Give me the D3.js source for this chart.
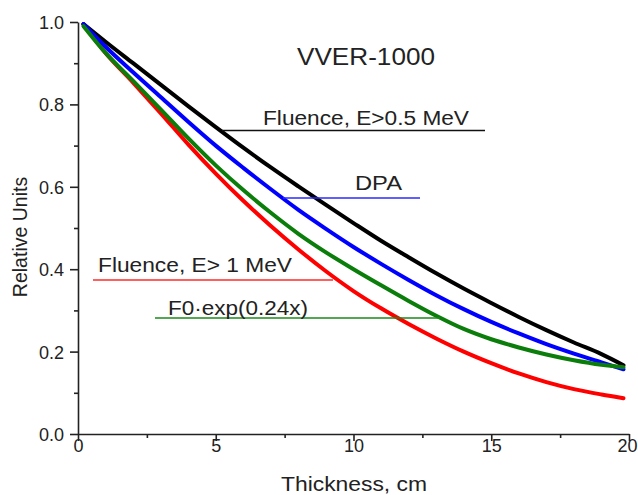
<!DOCTYPE html>
<html>
<head>
<meta charset="utf-8">
<script src="https://cdn.jsdelivr.net/npm/d3@7"></script>
<style>
	body { margin: 0; background: #fff; }
	svg { display: block; font-family: "Liberation Sans", Arial, sans-serif; }
</style>
</head>
<body>
<svg id="chart" width="638" height="495"></svg>
<script>
// values
var thickness = [0.2, 1, 2, 3, 4, 5, 6, 7, 8, 9, 10, 11, 12, 13, 14, 15, 16, 17, 18, 19, 19.8];
var fluence05 = [0.995, 0.952, 0.9, 0.848, 0.796, 0.745, 0.695, 0.647, 0.601, 0.556, 0.512, 0.469, 0.429, 0.39, 0.353, 0.318, 0.284, 0.252, 0.222, 0.194, 0.167];
var dpa = [0.995, 0.94, 0.878, 0.818, 0.758, 0.7, 0.646, 0.594, 0.544, 0.498, 0.454, 0.413, 0.374, 0.337, 0.303, 0.272, 0.244, 0.218, 0.195, 0.174, 0.157];
var fexp = [0.99, 0.925, 0.857, 0.788, 0.718, 0.652, 0.592, 0.537, 0.486, 0.441, 0.4, 0.361, 0.323, 0.287, 0.255, 0.23, 0.21, 0.193, 0.179, 0.168, 0.162];
var fluence1 = [0.995, 0.925, 0.853, 0.779, 0.703, 0.632, 0.566, 0.505, 0.448, 0.395, 0.347, 0.305, 0.267, 0.232, 0.2, 0.172, 0.147, 0.126, 0.109, 0.096, 0.087];

var xTicks = [0, 5, 10, 15, 20];
var yTicks = [0.0, 0.2, 0.4, 0.6, 0.8, 1.0];

var svg = d3.select('#chart');

var x = d3.scaleLinear().domain([0, 20]).range([78, 629]),
	y = d3.scaleLinear().domain([0, 1]).range([434, 22]);

// curves - drawn behind labels
var series = [
	{vals: fluence05, color: '#000000'},
	{vals: dpa, color: '#0000ff'},
	{vals: fexp, color: '#0a7d0a'},
	{vals: fluence1, color: '#ff0000'}
];
// red drawn under green at the start as in the picture
var order = [3, 0, 1, 2];

var line = d3.line()
	.x(function(d) { return x(d[0]); })
	.y(function(d) { return y(d[1]); })
	.curve(d3.curveMonotoneX);

order.forEach(function(i) {
	var s = series[i];
	svg.append('path')
		.datum(thickness.map(function(t, k) { return [t, s.vals[k]]; }))
		.attr('d', line)
		.attr('fill', 'none')
		.attr('stroke', s.color)
		.attr('stroke-width', 4)
		.attr('stroke-linejoin', 'round')
		.attr('stroke-linecap', 'round');
});

// axes
var xAxis = svg.append('g').attr('transform', 'translate(0,' + y(0) + ')')
	.call(d3.axisBottom(x).tickValues(xTicks).tickSize(7).tickSizeOuter(0).tickFormat(d3.format('d')));
var xMinor = svg.append('g').attr('transform', 'translate(0,' + y(0) + ')')
	.call(d3.axisBottom(x).tickValues([2.5, 7.5, 12.5, 17.5]).tickSize(4).tickSizeOuter(0).tickFormat(''));
var yAxis = svg.append('g').attr('transform', 'translate(' + x(0) + ',0)')
	.call(d3.axisLeft(y).tickValues(yTicks).tickSize(8).tickSizeOuter(0).tickFormat(d3.format('.1f')));
var yMinor = svg.append('g').attr('transform', 'translate(' + x(0) + ',0)')
	.call(d3.axisLeft(y).tickValues([0.1, 0.3, 0.5, 0.7, 0.9]).tickSize(4).tickSizeOuter(0).tickFormat(''));

[xAxis, xMinor, yAxis, yMinor].forEach(function(g) {
	g.selectAll('path, line').attr('stroke', '#222').attr('stroke-width', 1.6);
	g.selectAll('text').attr('fill', '#222').attr('font-size', 18)
		.attr('font-family', '"Liberation Sans", Arial, sans-serif');
});
xMinor.select('path').remove();
yMinor.select('path').remove();
xAxis.selectAll('text').attr('dy', 0).attr('y', 18);
// keep the last label inside the window
xAxis.selectAll('text').filter(function(d) { return d == 20; }).attr('dx', -2);
yAxis.selectAll('text').attr('x', -14).attr('dy', '0.36em');

// axis titles
svg.append('text')
	.attr('x', 354).attr('y', 491)
	.attr('text-anchor', 'middle')
	.attr('font-size', 20).attr('fill', '#222')
	.attr('textLength', 146).attr('lengthAdjust', 'spacingAndGlyphs')
	.text('Thickness, cm');

svg.append('text')
	.attr('transform', 'translate(27,237) rotate(-90)')
	.attr('text-anchor', 'middle')
	.attr('font-size', 19.5).attr('fill', '#222')
	.text('Relative Units');

svg.append('text')
	.attr('x', 297).attr('y', 65)
	.attr('font-size', 23).attr('fill', '#222')
	.attr('textLength', 138).attr('lengthAdjust', 'spacingAndGlyphs')
	.text('VVER-1000');

// annotation lines and labels
var notes = [
	{label: 'Fluence, E>0.5 MeV', tx: 263, ty: 125, tw: 206, x1: 222, x2: 485, ly: 130.5, color: '#111'},
	{label: 'DPA', tx: 355, ty: 190, tw: 47, x1: 283, x2: 420, ly: 198, color: '#2a2aff'},
	{label: 'Fluence, E> 1 MeV', tx: 98, ty: 272, tw: 194, x1: 93, x2: 333, ly: 280, color: '#ff2a2a'},
	{label: 'F0\u00b7exp(0.24x)', tx: 168, ty: 315, tw: 140, x1: 155, x2: 440, ly: 318, color: '#1a8a1a'}
];

notes.forEach(function(n) {
	svg.append('line')
		.attr('x1', n.x1).attr('x2', n.x2)
		.attr('y1', n.ly).attr('y2', n.ly)
		.attr('stroke', n.color).attr('stroke-width', 1.6);
	svg.append('text')
		.attr('x', n.tx).attr('y', n.ty)
		.attr('font-size', 20).attr('fill', '#222')
		.attr('textLength', n.tw).attr('lengthAdjust', 'spacingAndGlyphs')
		.text(n.label);
});
</script>
</body>
</html>
